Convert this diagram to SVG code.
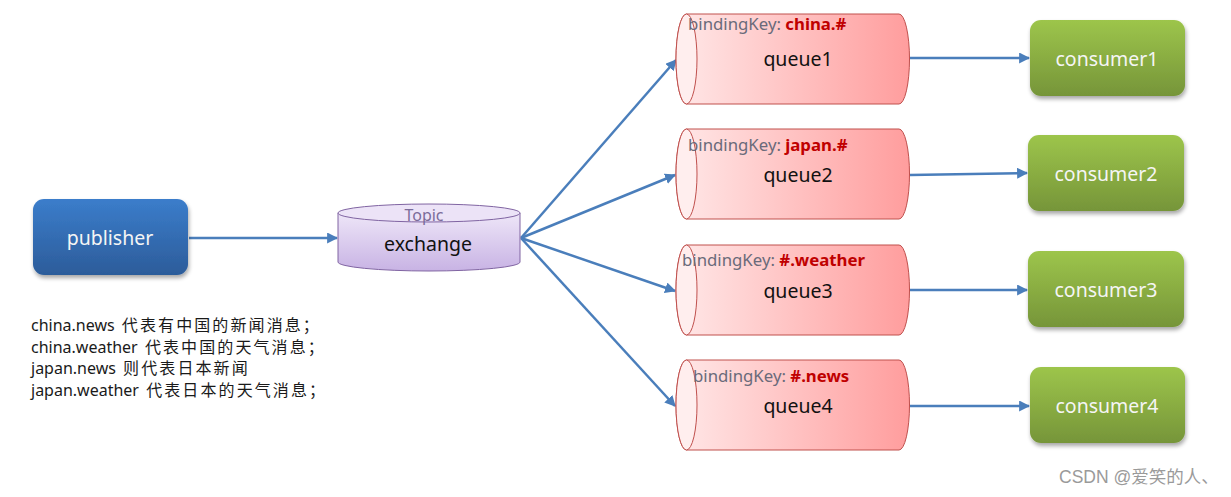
<svg xmlns="http://www.w3.org/2000/svg" width="1231" height="497" viewBox="0 0 1231 497">
<defs>
<linearGradient id="gBlue" x1="0" y1="0" x2="0" y2="1"><stop offset="0" stop-color="#3b7dcb"/><stop offset="1" stop-color="#2c5c9a"/></linearGradient>
<linearGradient id="gGreen" x1="0" y1="0" x2="0" y2="1"><stop offset="0" stop-color="#9dc54b"/><stop offset="1" stop-color="#769539"/></linearGradient>
<linearGradient id="gPurple" x1="0" y1="0" x2="0" y2="1"><stop offset="0" stop-color="#eee6f8"/><stop offset="1" stop-color="#c8b3e4"/></linearGradient>
<linearGradient id="gRed" x1="0" y1="0" x2="1" y2="0"><stop offset="0" stop-color="#ffe8e8"/><stop offset="1" stop-color="#ff9d9d"/></linearGradient>
<filter id="sh" x="-10%" y="-10%" width="130%" height="140%"><feGaussianBlur in="SourceAlpha" stdDeviation="2"/><feOffset dx="1" dy="3"/><feComponentTransfer><feFuncA type="linear" slope="0.35"/></feComponentTransfer><feMerge><feMergeNode/><feMergeNode in="SourceGraphic"/></feMerge></filter>
<marker id="arr" viewBox="0 0 10 10" refX="9" refY="5" markerWidth="4.4" markerHeight="4.4" orient="auto" markerUnits="strokeWidth"><path d="M0,0 L10,5 L0,10 z" fill="#4a7ebb"/></marker>
<g id="qshape">
<path d="M686.5,14 L899,14 A10.5,45 0 0 1 899,104 L686.5,104 A10.5,45 0 0 1 686.5,14 z" fill="url(#gRed)" stroke="#c0504d" stroke-width="1"/>
<ellipse cx="686.5" cy="59" rx="10.5" ry="45" fill="#ffeeee" stroke="#c0504d" stroke-width="1"/>
</g>
</defs>
<style>
.lbl{font-family:"Noto Sans","Open Sans","Noto Sans CJK SC",sans-serif;}
.w{fill:#f5f5f5;font-size:19.5px;text-anchor:middle;}
.q{fill:#111;font-size:19.5px;text-anchor:middle;}
.bk{fill:#6a6a7a;font-size:16.8px;}
.bv{fill:#c00000;font-weight:bold;}
.note{fill:#1a1a1a;font-size:16px;font-family:"Noto Sans","Noto Sans CJK SC",sans-serif;}
.cjk{letter-spacing:2.1px;}
.conn{stroke:#4a7ebb;stroke-width:2.5;fill:none;marker-end:url(#arr);}
</style>
<rect width="1231" height="497" fill="#ffffff"/>

<g id="connectors">
<line class="conn" x1="189" y1="238" x2="337" y2="238"/>
<line class="conn" x1="521" y1="238" x2="676" y2="60"/>
<line class="conn" x1="521" y1="238" x2="675" y2="175"/>
<line class="conn" x1="521" y1="238" x2="675" y2="291"/>
<line class="conn" x1="521" y1="238" x2="675" y2="406"/>
<line class="conn" x1="910" y1="58" x2="1029" y2="58"/>
<line class="conn" x1="910" y1="175" x2="1027" y2="173"/>
<line class="conn" x1="910" y1="290" x2="1027" y2="290"/>
<line class="conn" x1="910" y1="406" x2="1029" y2="406"/>
</g>

<g id="publisher">
<rect x="33" y="199" width="155" height="76" rx="11" fill="url(#gBlue)" filter="url(#sh)"/>
<text class="lbl w" x="110" y="245">publisher</text>
</g>

<g id="exchange">
<path d="M338,213 L338,262 A91,9 0 0 0 520,262 L520,213" fill="url(#gPurple)" stroke="#8064a2" stroke-width="1"/>
<ellipse cx="429" cy="213" rx="91" ry="9" fill="#ece3f7" stroke="#8064a2" stroke-width="1"/>
<text class="lbl" x="424" y="221" font-size="16" fill="#7b6c9a" text-anchor="middle">Topic</text>
<text class="lbl q" x="428" y="251">exchange</text>
</g>

<g id="queue1">
<use href="#qshape"/>
<text class="lbl bk" x="688" y="30">bindingKey: <tspan class="bv">china.#</tspan></text>
<text class="lbl q" x="798" y="66">queue1</text>
</g>
<g id="queue2">
<use href="#qshape" y="115"/>
<text class="lbl bk" x="688" y="151">bindingKey: <tspan class="bv">japan.#</tspan></text>
<text class="lbl q" x="798" y="182">queue2</text>
</g>
<g id="queue3">
<use href="#qshape" y="231"/>
<text class="lbl bk" x="682" y="266">bindingKey: <tspan class="bv">#.weather</tspan></text>
<text class="lbl q" x="798" y="298">queue3</text>
</g>
<g id="queue4">
<use href="#qshape" y="346"/>
<text class="lbl bk" x="693" y="382">bindingKey: <tspan class="bv">#.news</tspan></text>
<text class="lbl q" x="798" y="413">queue4</text>
</g>

<g id="consumer1">
<rect x="1030" y="20" width="155" height="76" rx="11" fill="url(#gGreen)" filter="url(#sh)"/>
<text class="lbl w" x="1107" y="66">consumer1</text>
</g>
<g id="consumer2">
<rect x="1028" y="135" width="156" height="76" rx="11" fill="url(#gGreen)" filter="url(#sh)"/>
<text class="lbl w" x="1106" y="181">consumer2</text>
</g>
<g id="consumer3">
<rect x="1028" y="251" width="156" height="76" rx="11" fill="url(#gGreen)" filter="url(#sh)"/>
<text class="lbl w" x="1106" y="297">consumer3</text>
</g>
<g id="consumer4">
<rect x="1030" y="367" width="155" height="76" rx="11" fill="url(#gGreen)" filter="url(#sh)"/>
<text class="lbl w" x="1107" y="413">consumer4</text>
</g>

<g id="notes">
<text class="note" x="31" y="331">china.news <tspan class="cjk" dx="3">代表有中国的新闻消息；</tspan></text>
<text class="note" x="31" y="353">china.weather <tspan class="cjk" dx="3">代表中国的天气消息；</tspan></text>
<text class="note" x="31" y="374">japan.news <tspan class="cjk" dx="3">则代表日本新闻</tspan></text>
<text class="note" x="31" y="396">japan.weather <tspan class="cjk" dx="3">代表日本的天气消息；</tspan></text>
</g>

<text x="1059" y="483" font-family="'Liberation Sans','Noto Sans CJK SC',sans-serif" font-size="17.5" fill="#9a9a9a">CSDN @爱笑的人、</text>
</svg>
